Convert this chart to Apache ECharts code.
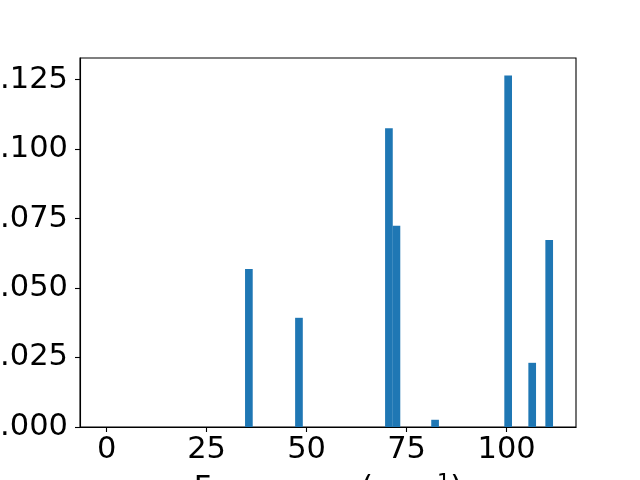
<!DOCTYPE html>
<html>
<head>
<meta charset="utf-8">
<script src="https://cdn.jsdelivr.net/npm/echarts@6/dist/echarts.min.js"></script>
<style>
html,body{margin:0;padding:0;background:#fff;}
#chart{width:640px;height:480px;}
</style>
</head>
<body>
<div id="chart"></div>
<script>
// Data
var frequencies = [0, 35.57, 48.09, 70.58, 72.46, 82.12, 100.39, 106.40, 110.65];
var intensities = [0, 0.0569, 0.0393, 0.1075, 0.0724, 0.0026, 0.1265, 0.0231, 0.0673];
var barWidthUnits = 1.92;
var xTicks = [0, 25, 50, 75, 100];
var yTicks = [0, 0.025, 0.05, 0.075, 0.1, 0.125];

var data = frequencies.map(function (f, i) { return [f, intensities[i]]; });

var chart = echarts.init(document.getElementById('chart'), null, {renderer: 'canvas'});
var fontFamily = 'DejaVu Sans';
var fs = 30.5;
chart.setOption({
  animation: false,
  grid: {left: 80, right: 64, top: 58, bottom: 53, containLabel: false, outerBoundsMode: 'none',
         show: true, borderColor: '#000', borderWidth: 1.1, backgroundColor: 'transparent'},
  xAxis: {
    type: 'value',
    min: -6.65,
    max: 117.35,
    splitLine: {show: false},
    axisLine: {onZero: false, lineStyle: {color: '#000', width: 1.1}},
    axisTick: {show: true, length: 5, lineStyle: {color: '#000', width: 1.1}, customValues: xTicks},
    axisLabel: {customValues: xTicks, color: '#000', fontSize: fs, fontFamily: fontFamily, margin: 8},
    name: 'Frequency (cm{sup|−1})',
    nameLocation: 'middle',
    nameGap: 46,
    nameTextStyle: {
      color: '#000', fontSize: fs, fontFamily: fontFamily, verticalAlign: 'top',
      rich: {sup: {fontSize: 21, fontFamily: fontFamily, color: '#000', verticalAlign: 'top', padding: [0, 0, 12, 0]}}
    }
  },
  yAxis: {
    type: 'value',
    min: 0,
    max: 0.1328,
    splitLine: {show: false},
    axisLine: {show: true, onZero: false, lineStyle: {color: '#000', width: 1.1}},
    axisTick: {show: true, length: 5, lineStyle: {color: '#000', width: 1.1}, customValues: yTicks},
    axisLabel: {
      customValues: yTicks, color: '#000', fontSize: fs, fontFamily: fontFamily, margin: 12,
      formatter: function (v) { return v.toFixed(3); }
    }
  },
  series: [{
    type: 'custom',
    data: data,
    encode: {x: 0, y: 1},
    renderItem: function (params, api) {
      var x = api.value(0), y = api.value(1);
      var p0 = api.coord([x - barWidthUnits / 2, y]);
      var p1 = api.coord([x + barWidthUnits / 2, 0]);
      return {
        type: 'rect',
        shape: {x: p0[0], y: p0[1], width: p1[0] - p0[0], height: p1[1] - p0[1]},
        style: {fill: '#1f77b4'}
      };
    }
  }]
});
</script>
</body>
</html>
